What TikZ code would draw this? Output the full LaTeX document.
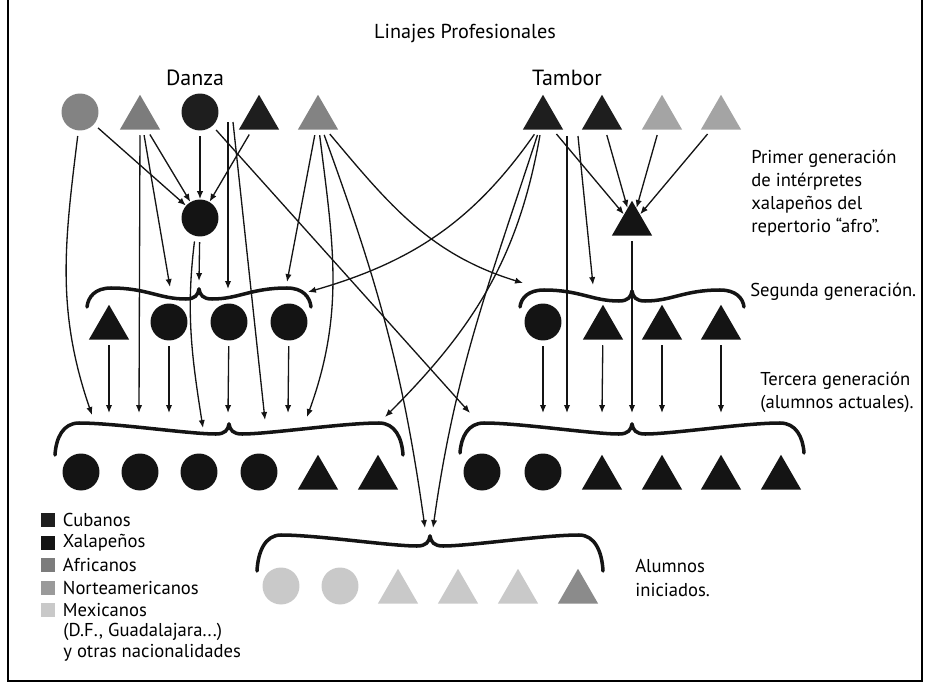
\documentclass[tikz,border=0pt]{standalone}
\usepackage{fontspec}
\setmainfont{PT Sans}
\usetikzlibrary{arrows.meta, positioning, shapes.geometric}
\definecolor{colCubano}{HTML}{1E1E1E}
\definecolor{colXalapeno}{HTML}{141414}
\definecolor{colAfricano}{HTML}{7C7C7C}
\definecolor{colNorteamericano}{HTML}{9A9A9A}
\definecolor{colMexicano}{HTML}{C9C9C9}
\colorlet{colLinea}{black!92}
\tikzset{
  figBase/.style={draw=none, inner sep=0pt},
  circulo/.style={figBase, circle, minimum size=0.74cm},
  triangulo/.style={figBase, regular polygon, regular polygon sides=3, minimum size=0.93cm},
  flecha/.style={-{Latex[length=4.5pt,width=3.6pt]}, line width=0.75pt, colLinea, shorten <=3pt},
  trazoLlave/.style={line width=2pt, colLinea, line cap=round},
  etiqueta/.style={font=\fontsize{10.6}{13.2}\selectfont, align=left, inner sep=0pt, anchor=west},
  grupo/.style={font=\fontsize{12.5}{15}\selectfont, inner sep=0pt},
  cuadroLeyenda/.style={minimum size=0.29cm, inner sep=0pt},
  textoLeyenda/.style={font=\fontsize{10.6}{12}\selectfont, inner sep=0pt, anchor=west},
  pics/llave/.style 2 args={code={
    \foreach \lado in {1,-1}
      \draw[trazoLlave, xscale=\lado] (0,0) .. controls (1,6) and (4,10) .. (13,10)
        .. controls (40,10) and (#1-60,-1) .. (#1-24,-1)
        .. controls (#1-8,-1) and (#1-1,#2*0.45) .. (#1,#2);
  }},
}

\begin{document}
\begin{tikzpicture}[x=0.02cm, y=-0.02cm]
  \useasboundingbox (0,0) rectangle (931,683);
  \draw[line width=0.8pt] (8,-2) rectangle (922,681);

  \node[font=\fontsize{11.5}{14}\selectfont] (titulo) at (465,33) {Linajes Profesionales};
  \node[grupo] (danza) at (195,78) {Danza};
  \node[grupo] (tambor) at (567,78) {Tambor};

  % Danza: origen
  \node[circulo, fill=colNorteamericano!85!black] (d1) at (80,112) {};
  \node[triangulo, fill=colAfricano] (d2) at (140,118) {};
  \node[circulo, fill=colCubano] (d3) at (200,112) {};
  \node[triangulo, fill=colCubano] (d4) at (259,118) {};
  \node[triangulo, fill=colAfricano!95!white] (d5) at (318,118) {};
  % Tambor: origen
  \node[triangulo, fill=colCubano] (m1) at (543,118) {};
  \node[triangulo, fill=colCubano] (m2) at (602,118) {};
  \node[triangulo, fill=colNorteamericano!90!white] (m3) at (662,118) {};
  \node[triangulo, fill=colNorteamericano!90!white] (m4) at (721,118) {};

  % primera generacion
  \node[circulo, fill=colXalapeno] (f1) at (200,218) {};
  \node[triangulo, fill=colXalapeno] (g1) at (632,224) {};
  \node[etiqueta] (lblPrimer) at (751,193) {Primer generación\\de intérpretes\\xalapeños del\\repertorio “afro”.};

  % segunda generacion
  \pic (llSegD) at (199,289) {llave={112}{18}};
  \pic (llSegT) at (632,291) {llave={112}{16}};
  \node[triangulo, fill=colXalapeno] (s1) at (109,328) {};
  \node[circulo, fill=colXalapeno] (s2) at (169,322) {};
  \node[circulo, fill=colXalapeno] (s3) at (229,322) {};
  \node[circulo, fill=colXalapeno] (s4) at (289,322) {};
  \node[circulo, fill=colXalapeno] (u1) at (543,322) {};
  \node[triangulo, fill=colXalapeno] (u2) at (603,328) {};
  \node[triangulo, fill=colXalapeno] (u3) at (662,328) {};
  \node[triangulo, fill=colXalapeno] (u4) at (721,328) {};
  \node[etiqueta] (lblSegunda) at (750,292) {Segunda generación.};

  % tercera generacion
  \pic (llTerD) at (229,424) {llave={174}{31}};
  \pic (llTerT) at (632,424) {llave={172}{29}};
  \node[circulo, fill=colXalapeno] (t1) at (81,472) {};
  \node[circulo, fill=colXalapeno] (t2) at (140,472) {};
  \node[circulo, fill=colXalapeno] (t3) at (199,472) {};
  \node[circulo, fill=colXalapeno] (t4) at (259,472) {};
  \node[triangulo, fill=colXalapeno] (t5) at (318,478) {};
  \node[triangulo, fill=colXalapeno] (t6) at (378,478) {};
  \node[circulo, fill=colXalapeno] (v1) at (482,472) {};
  \node[circulo, fill=colXalapeno] (v2) at (543,472) {};
  \node[triangulo, fill=colXalapeno] (v3) at (602,478) {};
  \node[triangulo, fill=colXalapeno] (v4) at (662,478) {};
  \node[triangulo, fill=colXalapeno] (v5) at (721,478) {};
  \node[triangulo, fill=colXalapeno] (v6) at (781,478) {};
  \node[etiqueta] (lblTercera) at (760,392) {Tercera generación\\(alumnos actuales).};

  % alumnos iniciados
  \pic (llIni) at (430,536) {llave={173}{35}};
  \node[circulo, fill=colMexicano] (w1) at (281,586) {};
  \node[circulo, fill=colMexicano] (w2) at (340,586) {};
  \node[triangulo, fill=colMexicano] (w3) at (398,592) {};
  \node[triangulo, fill=colMexicano] (w4) at (458,592) {};
  \node[triangulo, fill=colMexicano] (w5) at (518,592) {};
  \node[triangulo, fill=colNorteamericano!90!black] (w6) at (578,592) {};
  \node[etiqueta] (lblIni) at (635,578) {Alumnos\\iniciados.};

  % puntas de llegada sobre las llaves
  \coordinate (sD-a) at (170,287);
  \coordinate (sD-b) at (199,281);
  \coordinate (sD-c) at (228,289);
  \coordinate (sD-d) at (287,282);
  \coordinate (sD-e) at (308,292);
  \coordinate (sT-a) at (523,283);
  \coordinate (sT-b) at (593,285);
  \coordinate (tD-a) at (92,415);
  \coordinate (tD-b) at (109,413);
  \coordinate (tD-c) at (139,413);
  \coordinate (tD-d) at (169,413);
  \coordinate (tD-e) at (203,428);
  \coordinate (tD-f) at (228,413);
  \coordinate (tD-g) at (265,420);
  \coordinate (tD-h) at (288,413);
  \coordinate (tD-i) at (307,417);
  \coordinate (tD-j) at (385,417);
  \coordinate (tT-a) at (470,413);
  \coordinate (tT-b) at (543,413);
  \coordinate (tT-c) at (567,413);
  \coordinate (tT-d) at (602,413);
  \coordinate (tT-e) at (632,413);
  \coordinate (tT-f) at (662,413);
  \coordinate (tT-g) at (721,413);
  \coordinate (iA) at (425,528);
  \coordinate (iB) at (433,528);

  % Danza
  \draw[flecha] (d1) -- (f1);
  \draw[flecha] (d2) -- (f1);
  \draw[flecha] (d3) -- (f1);
  \draw[flecha] (d4) -- (f1);
  \draw[flecha] (d1.-95) to[out=-97, in=109] (tD-a);
  \draw[flecha] (d2.south) -- (tD-c);
  \draw[flecha] (d2.-75) -- (sD-a);
  \draw[flecha, shorten <=0pt] ([shift={(28,10)}]d3.center) -- (sD-c);
  \draw[flecha, shorten <=0pt] ([shift={(33,10)}]d3.center) -- (tD-g);
  \draw[flecha] (d3) -- (tT-a);
  \draw[flecha] (d5) -- (sD-d);
  \draw[flecha] (d5.-85) to[out=-83, in=70] (tD-i);
  \draw[flecha] (d5.-70) to[out=-70, in=98] (iA);
  \draw[flecha] (d5.-55) to[out=-50, in=163] (sT-a);
  \draw[flecha] (f1) -- (sD-b);
  \draw[flecha] (f1.-105) to[out=-97, in=99] (tD-e);
  \draw[flecha] (s1) -- (tD-b);
  \draw[flecha] (s2) -- (tD-d);
  \draw[flecha] (s3) -- (tD-f);
  \draw[flecha] (s4) -- (tD-h);

  % Tambor
  \draw[flecha] (m1) -- (g1);
  \draw[flecha] (m2) -- (g1);
  \draw[flecha] (m3) -- (g1);
  \draw[flecha] (m4) -- (g1);
  \draw[flecha] (m1.-115) to[out=-125, in=16] (sD-e);
  \draw[flecha] (m1.-100) to[out=-100, in=45] (tD-j);
  \draw[flecha] (m1.-108) to[out=-108, in=82] (iB);
  \draw[flecha, shorten <=0pt] ([shift={(24,18)}]m1.center) -- (tT-c);
  \draw[flecha, shorten <=0pt] ([shift={(-24,18)}]m2.center) -- (sT-b);
  \draw[flecha] (g1.south) -- (tT-e);
  \draw[flecha] (u1) -- (tT-b);
  \draw[flecha] (u2) -- (tT-d);
  \draw[flecha] (u3) -- (tT-f);
  \draw[flecha] (u4) -- (tT-g);

  % leyenda
  \node[cuadroLeyenda, fill=colCubano] (lCub) at (48,520) {};
  \node[cuadroLeyenda, fill=colXalapeno] (lXal) at (48,543) {};
  \node[cuadroLeyenda, fill=colAfricano] (lAfr) at (48,565) {};
  \node[cuadroLeyenda, fill=colNorteamericano] (lNor) at (48,588) {};
  \node[cuadroLeyenda, fill=colMexicano] (lMex) at (48,610) {};
  \node[textoLeyenda, right=4pt of lCub] (tCub) {Cubanos};
  \node[textoLeyenda, right=4pt of lXal] (tXal) {Xalapeños};
  \node[textoLeyenda, right=4pt of lAfr] (tAfr) {Africanos};
  \node[textoLeyenda, right=4pt of lNor] (tNor) {Norteamericanos};
  \node[textoLeyenda, right=4pt of lMex] (tMex) {Mexicanos};
  \node[textoLeyenda] (tMex2) at (63,632) {(D.F., Guadalajara...)};
  \node[textoLeyenda] (tMex3) at (63,653) {y otras nacionalidades};
\end{tikzpicture}
\end{document}
